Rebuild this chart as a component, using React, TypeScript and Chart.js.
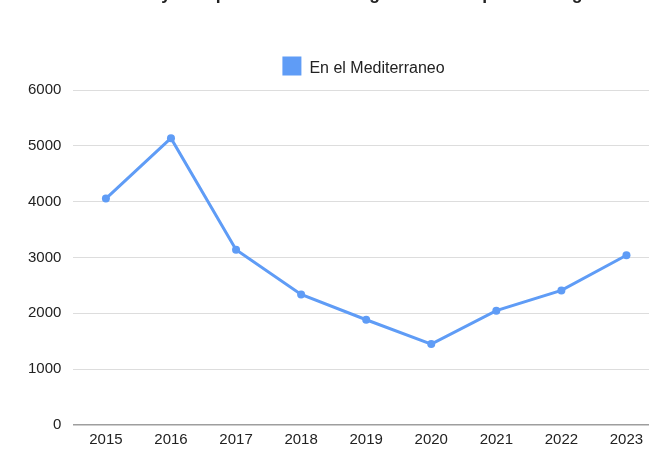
import React, { useEffect, useRef } from "react";
import { Chart, registerables } from "chart.js";

Chart.register(...registerables);

const TITLE = "Muertes y desapariciones de inmigrantes en el período migratorio";
const SERIES_LABEL = "En el Mediterraneo";
const YEARS = ["2015", "2016", "2017", "2018", "2019", "2020", "2021", "2022", "2023"];
const VALUES = [4055, 5136, 3139, 2337, 1885, 1449, 2048, 2411, 3041];
const Y_MIN = 0;
const Y_MAX = 6000;
const Y_STEP = 1000;

const LINE_COLOR = "#5f9cf6";
const TEXT_COLOR = "#222222";
const FONT = "Arial, 'Liberation Sans', sans-serif";
const LEGEND_FONT_SIZE = 16;
const LEGEND_BOX = 19;

const CANVAS_W = 680;
const CANVAS_H = 500;
const CANVAS_TOP = -30;
const HEADER_SHIFT = 26;

const headerPlugin = {
  id: "headerPlugin",
  beforeInit(chart: any) {
    const legend = chart.legend;
    if (!legend) return;
    const orig = legend.fit;
    legend.fit = function () {
      orig.call(legend);
      this.height += 4.5;
    };
  },
  afterLayout(chart: any) {
    const boxes = [chart.legend, chart.titleBlock];
    boxes.forEach((b: any) => {
      if (!b) return;
      b.left += HEADER_SHIFT;
      b.right += HEADER_SHIFT;
    });
  },
  afterDraw(chart: any) {
    const legend = chart.legend;
    if (!legend || !legend.legendHitBoxes || !legend.legendItems) return;
    const ctx = chart.ctx;
    ctx.save();
    ctx.fillStyle = TEXT_COLOR;
    ctx.font = `${LEGEND_FONT_SIZE}px ${FONT}`;
    ctx.textAlign = "left";
    ctx.textBaseline = "alphabetic";
    legend.legendItems.forEach((item: any, i: number) => {
      const hb = legend.legendHitBoxes[i];
      if (!hb) return;
      ctx.fillText(item.text, hb.left + LEGEND_BOX + LEGEND_FONT_SIZE / 2, hb.top + 16);
    });
    ctx.restore();
  },
};

export default function App() {
  const ref = useRef<HTMLCanvasElement | null>(null);

  useEffect(() => {
    if (!ref.current) return;
    const chart = new Chart(ref.current, {
      type: "line",
      data: {
        labels: YEARS,
        datasets: [
          {
            label: SERIES_LABEL,
            data: VALUES,
            borderColor: LINE_COLOR,
            backgroundColor: LINE_COLOR,
            borderWidth: 3,
            pointRadius: 4,
            pointBackgroundColor: LINE_COLOR,
            pointBorderWidth: 0,
            tension: 0,
          },
        ],
      },
      options: {
        responsive: false,
        animation: false,
        devicePixelRatio: 1,
        layout: { padding: { top: 13.2, left: 16, right: 21, bottom: 15 } },
        plugins: {
          tooltip: { enabled: false },
          title: {
            display: true,
            text: TITLE,
            color: TEXT_COLOR,
            font: { family: FONT, size: 17.5, weight: "bold", lineHeight: 1.2 },
            padding: { top: 0, bottom: 42.3 },
          },
          legend: {
            display: true,
            position: "top",
            labels: {
              boxWidth: LEGEND_BOX,
              boxHeight: LEGEND_BOX,
              color: "rgba(0,0,0,0)",
              font: { family: FONT, size: LEGEND_FONT_SIZE },
              padding: 10,
              generateLabels: (c: any) =>
                Chart.defaults.plugins.legend.labels
                  .generateLabels(c)
                  .map((l: any) => ({ ...l, lineWidth: 0 })),
            },
          },
        },
        scales: {
          x: {
            offset: true,
            grid: { display: false, drawTicks: false },
            border: { display: false },
            ticks: {
              color: TEXT_COLOR,
              font: { family: FONT, size: 15 },
              padding: 6,
              maxRotation: 0,
            },
          },
          y: {
            min: Y_MIN,
            max: Y_MAX,
            border: { display: false },
            grid: {
              drawTicks: false,
              color: (ctx: any) => (ctx.tick && ctx.tick.value === 0 ? "#9e9e9e" : "#dddddd"),
              lineWidth: (ctx: any) => (ctx.tick && ctx.tick.value === 0 ? 1.5 : 1),
            },
            ticks: {
              stepSize: Y_STEP,
              color: TEXT_COLOR,
              font: { family: FONT, size: 15 },
              padding: 12,
              callback: (v: any) => String(v),
            },
          },
        },
      },
      plugins: [headerPlugin],
    });
    return () => chart.destroy();
  }, []);

  return (
    <div
      style={{
        position: "fixed",
        left: 0,
        top: 0,
        width: 649,
        height: 461,
        overflow: "hidden",
        background: "#ffffff",
      }}
    >
      <canvas
        ref={ref}
        width={CANVAS_W}
        height={CANVAS_H}
        style={{ position: "absolute", left: 0, top: CANVAS_TOP, width: CANVAS_W, height: CANVAS_H }}
      />
    </div>
  );
}
